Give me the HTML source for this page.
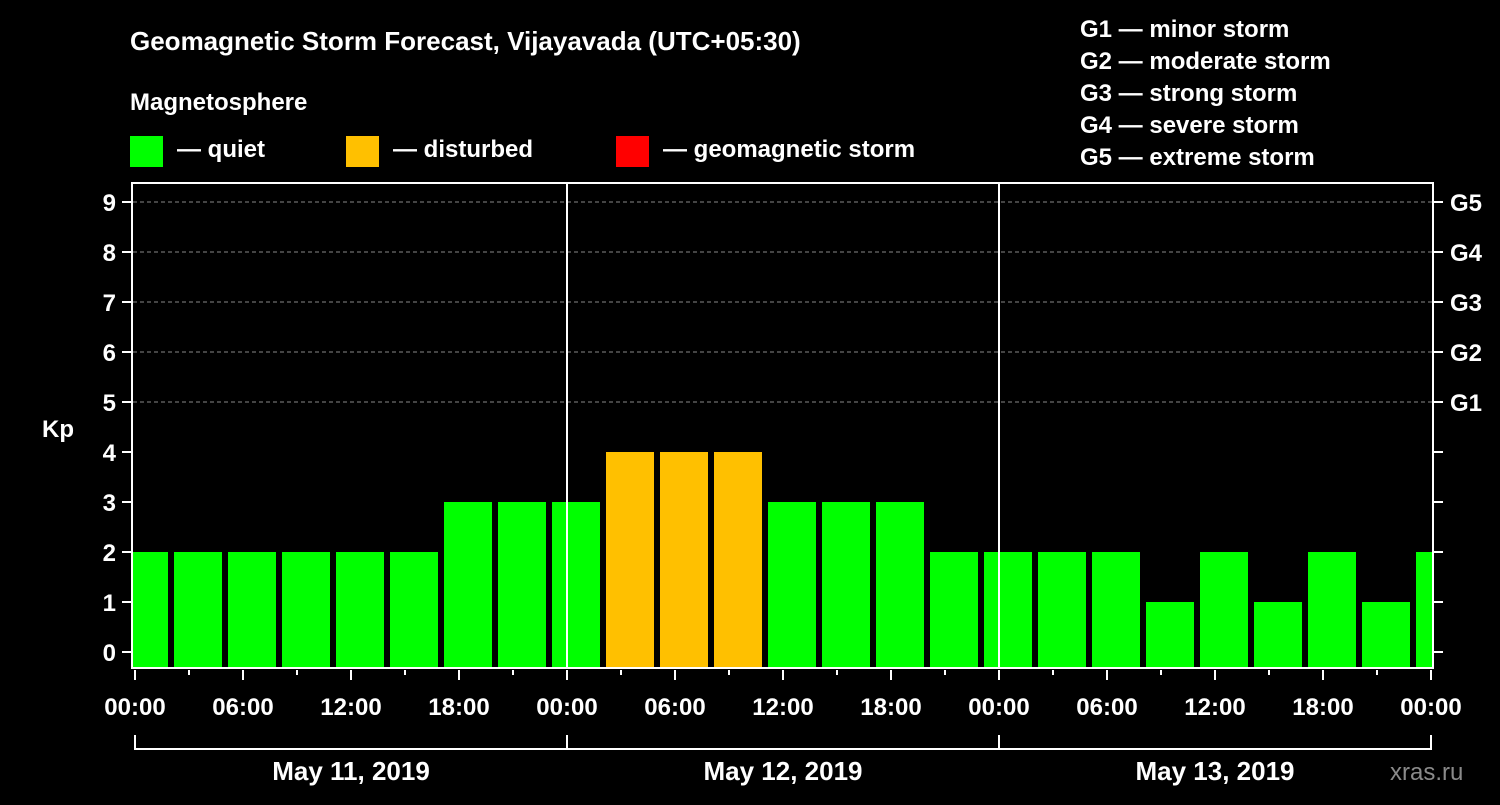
<!DOCTYPE html>
<html><head><meta charset="utf-8"><style>
body{margin:0;background:#000;width:1500px;height:800px;overflow:hidden}
svg text{font-family:"Liberation Sans",Arial,sans-serif;font-weight:bold;fill:#fff}
</style></head><body>
<svg id="c" width="1500" height="800" xmlns="http://www.w3.org/2000/svg">
<text x="130" y="50" font-size="26">Geomagnetic Storm Forecast, Vijayavada (UTC+05:30)</text>
<text x="130" y="110" font-size="24">Magnetosphere</text>
<g><rect x="130" y="136" width="33" height="31" fill="#00ff00"/><text x="177" y="157" font-size="24">— quiet</text></g>
<g><rect x="346" y="136" width="33" height="31" fill="#ffc000"/><text x="393" y="157" font-size="24">— disturbed</text></g>
<g><rect x="616" y="136" width="33" height="31" fill="#ff0000"/><text x="663" y="157" font-size="24">— geomagnetic storm</text></g>
<g font-size="24">
<text x="1080" y="37">G1 — minor storm</text>
<text x="1080" y="69">G2 — moderate storm</text>
<text x="1080" y="101">G3 — strong storm</text>
<text x="1080" y="133">G4 — severe storm</text>
<text x="1080" y="165">G5 — extreme storm</text>
</g>
<text x="42" y="437" font-size="24">Kp</text>
<text x="1390" y="780" font-size="24" fill="#888" style="fill:#8a8a8a;font-weight:normal">xras.ru</text>
<defs><clipPath id="pc"><rect x="133" y="183" width="1299" height="485"/></clipPath></defs>
<g id="grid"></g><g id="bars" clip-path="url(#pc)"></g><g id="axes"></g>
</svg>
<script>
const kpValues=[2,2,2,2,2,2,3,3,3,4,4,4,3,3,3,2,2,2,2,1,2,1,2,1,2];
const startHour=-1;
const yTicks=[0,1,2,3,4,5,6,7,8,9];
const gLabels=["G1","G2","G3","G4","G5"];
const xTickLabels=["00:00","06:00","12:00","18:00","00:00","06:00","12:00","18:00","00:00","06:00","12:00","18:00","00:00"];
const dayLabels=["May 11, 2019","May 12, 2019","May 13, 2019"];
const NS="http://www.w3.org/2000/svg";
const X=h=>135+h*18, Y=v=>652-v*50;
function mk(p,t,a){const e=document.createElementNS(NS,t);for(const k in a)e.setAttribute(k,a[k]);document.getElementById(p).appendChild(e);return e;}
yTicks.forEach(v=>{
 if(v>=5){const g=mk('grid','line',{x1:133,x2:1432,y1:Y(v),y2:Y(v),stroke:'#888','stroke-dasharray':'4,3'});
 
 }
 const l=mk('axes','line',{x1:122,x2:132,y1:Y(v),y2:Y(v),stroke:'#fff','stroke-width':2});
 
 
 const r=mk('axes','line',{x1:1433,x2:1443,y1:Y(v),y2:Y(v),stroke:'#fff','stroke-width':2});
 
 
 const t=mk('axes','text',{x:116,y:Y(v)+9,'font-size':24,'text-anchor':'end'});t.textContent=v;
 
 
});
gLabels.forEach((g,i)=>{const t=mk('axes','text',{x:1450,y:Y(5+i)+9,'font-size':24});t.textContent=g;
 
 });
kpValues.forEach((v,i)=>{
 const h0=startHour+i*3;
 const b=mk('bars','rect',{x:X(h0)+3,y:Y(v),width:48,height:668-Y(v),fill:v>=5?'#ff0000':v>=4?'#ffc000':'#00ff00'});
 
 
});
[24,48].forEach(h=>{const l=mk('axes','line',{x1:X(h),x2:X(h),y1:182,y2:668,stroke:'#fff','stroke-width':2});
 
 });
const f=mk('axes','rect',{x:132,y:183,width:1301,height:485,fill:'none',stroke:'#fff','stroke-width':2});


for(let h=0;h<=72;h+=3){const major=h%6==0;
 const l=mk('axes','line',{x1:X(h),x2:X(h),y1:670,y2:major?680:675,stroke:'#fff','stroke-width':2});
 
 }
xTickLabels.forEach((s,i)=>{const t=mk('axes','text',{x:X(i*6),y:715,'font-size':24,'text-anchor':'middle'});t.textContent=s;
 
 });
const br=mk('axes','path',{d:`M${X(0)},735V749H${X(72)}V735M${X(24)},735V749M${X(48)},735V749`,stroke:'#fff','stroke-width':2,fill:'none'});


dayLabels.forEach((s,i)=>{const t=mk('axes','text',{x:X(i*24+12),y:780,'font-size':26,'text-anchor':'middle'});t.textContent=s;
 
 });
</script>
</body></html>
